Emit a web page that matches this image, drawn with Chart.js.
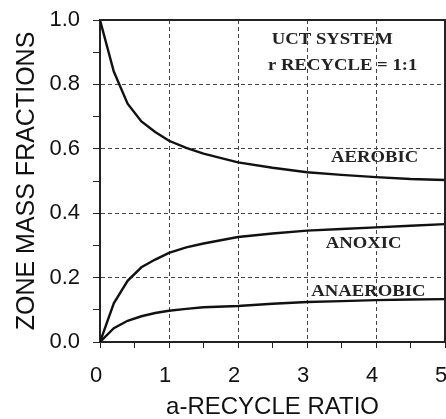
<!DOCTYPE html>
<html>
<head>
<meta charset="utf-8">
<script src="https://cdn.jsdelivr.net/npm/chart.js@4"></script>
<style>
  html, body { margin: 0; padding: 0; background: #fff; }
  #wrap { width: 446px; height: 419px; }
</style>
</head>
<body>
<div id="wrap"><canvas id="zoneChart" width="446" height="419"></canvas></div>
<script>
const aRatio    = [0, 0.2, 0.4, 0.6, 0.8, 1, 1.25, 1.5, 2, 2.5, 3, 3.5, 4, 4.5, 5]
const aerobic   = [1.0, 0.84, 0.74, 0.685, 0.652, 0.625, 0.603, 0.585, 0.558, 0.541, 0.527, 0.519, 0.512, 0.506, 0.503]
const anoxic    = [0, 0.12, 0.19, 0.232, 0.256, 0.277, 0.294, 0.306, 0.326, 0.337, 0.346, 0.351, 0.356, 0.361, 0.366]
const anaerobic = [0, 0.043, 0.066, 0.08, 0.09, 0.097, 0.103, 0.108, 0.112, 0.119, 0.124, 0.127, 0.13, 0.132, 0.133]

// text notes placed in data units: [text, x, y, align]
const notes = [
  ["UCT SYSTEM", 2.49, 0.938, "left"],
  ["r RECYCLE = 1:1", 2.435, 0.859, "left"],
  ["AEROBIC", 3.98, 0.572, "center"],
  ["ANOXIC", 3.82, 0.307, "center"],
  ["ANAEROBIC", 3.89, 0.156, "center"]
]

const toPoints = ys => aRatio.map((x, i) => ({ x: x, y: ys[i] }))
const isStep = (v, step) => Math.abs(v / step - Math.round(v / step)) < 1e-6

const frameAndNotes = {
  id: "frameAndNotes",
  afterDatasetsDraw(chart) {
    const ctx = chart.ctx
    const a = chart.chartArea
    const xs = chart.scales.x
    const ys = chart.scales.y
    ctx.save()
    ctx.strokeStyle = "#222"
    ctx.lineWidth = 2
    ctx.beginPath()
    ctx.moveTo(a.left, a.top)
    ctx.lineTo(a.right, a.top)
    ctx.lineTo(a.right, a.bottom)
    ctx.stroke()

    ctx.fillStyle = "#222"
    ctx.font = "bold 17px 'Liberation Serif', 'Times New Roman', serif"
    ctx.textBaseline = "middle"
    notes.forEach(([text, x, y, align]) => {
      const px = xs.getPixelForValue(x)
      const py = ys.getPixelForValue(y)
      ctx.save()
      ctx.translate(px, py)
      ctx.scale(1.1, 1)
      ctx.textAlign = align
      ctx.fillText(text, 0, 0)
      ctx.restore()
    })
    ctx.restore()
  }
}

const lineStyle = {
  borderColor: "#111",
  borderWidth: 2.4,
  pointRadius: 0,
  fill: false,
  tension: 0
}

new Chart(document.getElementById("zoneChart").getContext("2d"), {
  type: "line",
  data: {
    datasets: [
      Object.assign({ label: "AEROBIC", data: toPoints(aerobic) }, lineStyle),
      Object.assign({ label: "ANOXIC", data: toPoints(anoxic) }, lineStyle),
      Object.assign({ label: "ANAEROBIC", data: toPoints(anaerobic) }, lineStyle)
    ]
  },
  options: {
    responsive: false,
    animation: false,
    layout: { padding: { top: 20, right: 1, left: 0, bottom: 0 } },
    plugins: {
      legend: { display: false },
      tooltip: { enabled: false }
    },
    scales: {
      x: {
        type: "linear",
        min: 0,
        max: 5,
        afterFit(scale) {
          scale.height = 77
          scale.paddingLeft = 0
          scale.paddingRight = 0
        },
        ticks: {
          stepSize: 0.5,
          autoSkip: false,
          maxRotation: 0,
          padding: 15,
          labelOffset: -4,
          color: "#111",
          font: { family: "'Liberation Sans', Arial, sans-serif", size: 22 },
          callback: v => isStep(v, 1) ? String(Math.round(v)) : ""
        },
        grid: {
          color: c => (c.tick && isStep(c.tick.value, 1) && c.tick.value > 0 && c.tick.value < 5) ? "#444" : "transparent",
          tickColor: "#222",
          tickLength: 6,
          lineWidth: 1
        },
        border: { display: true, color: "#222", width: 2, dash: [4, 3] },
        title: {
          display: true,
          text: "a-RECYCLE RATIO",
          color: "#111",
          font: { family: "'Liberation Sans', Arial, sans-serif", size: 24 },
          padding: { top: 0, bottom: -3 }
        }
      },
      y: {
        min: 0,
        max: 1,
        afterFit(scale) {
          scale.width = 100
          scale.paddingTop = 0
          scale.paddingBottom = 0
        },
        ticks: {
          stepSize: 0.1,
          autoSkip: false,
          padding: 13,
          color: "#111",
          font: { family: "'Liberation Sans', Arial, sans-serif", size: 22 },
          callback: v => isStep(v, 0.2) ? v.toFixed(1) : ""
        },
        grid: {
          color: c => (c.tick && isStep(c.tick.value, 0.2) && c.tick.value > 0.01 && c.tick.value < 0.99) ? "#444" : "transparent",
          tickColor: "#222",
          tickLength: 7,
          lineWidth: 1
        },
        border: { display: true, color: "#222", width: 2, dash: [4, 3] },
        title: {
          display: true,
          text: "ZONE MASS FRACTIONS",
          color: "#111",
          font: { family: "'Liberation Sans', Arial, sans-serif", size: 25 },
          padding: { top: 12, bottom: 0 }
        }
      }
    }
  },
  plugins: [frameAndNotes]
})
</script>
</body>
</html>
